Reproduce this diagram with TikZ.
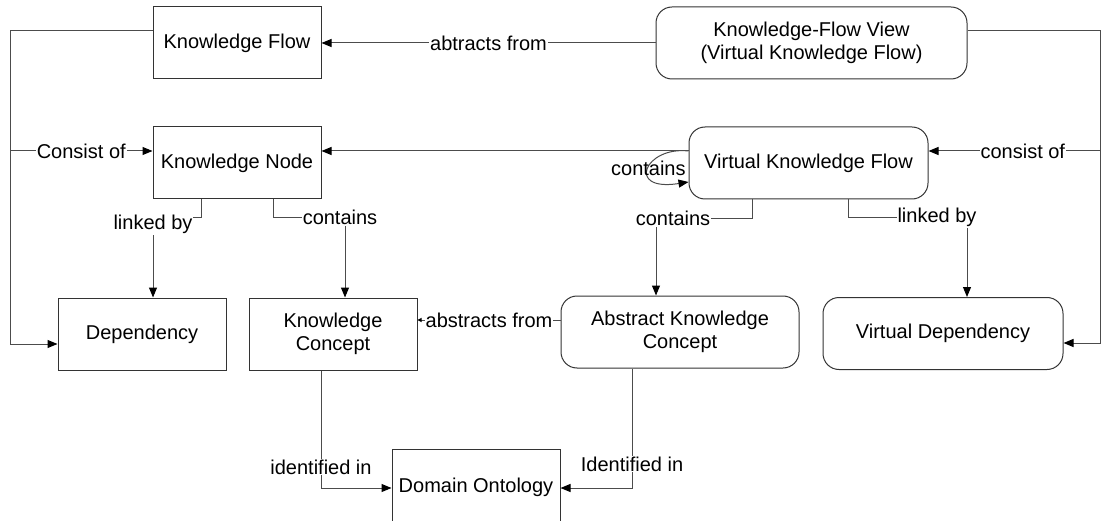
\documentclass[tikz,border=0pt]{standalone}
\usepackage{fontspec}
\setmainfont{Liberation Sans}
\usetikzlibrary{arrows.meta}

\begin{document}
\begin{tikzpicture}[x=1pt,y=-1pt,line join=miter,
  every node/.style={font=\fontsize{20}{23.5}\selectfont},
  box/.style={draw=black!80,line width=1pt,minimum height=72pt,align=center,inner sep=2pt},
  rbox/.style={box,rounded corners=16pt},
  conn/.style={draw=black!70,line width=1pt,-{Triangle[length=10pt,width=8pt,color=black]}},
  lbl/.style={fill=white,inner sep=1pt}]
  % Knowledge flow on the left, its virtual view on the right, both tied to the domain ontology below.
  \useasboundingbox (0,0) rectangle (1102,521);

  \node[box,minimum width=168pt] (kf) at (237,43) {Knowledge Flow};
  \node[rbox,minimum width=311pt] (kfv) at (811.5,43) {Knowledge-Flow View\\(Virtual Knowledge Flow)};
  \node[box,minimum width=168pt] (kn) at (237,163) {Knowledge Node};
  \node[rbox,minimum width=239pt] (vkf) at (808.5,163) {Virtual Knowledge Flow};
  \node[box,minimum width=168pt] (dep) at (142,334) {Dependency};
  \node[box,minimum width=168pt] (kc) at (333,334) {Knowledge\\Concept};
  \node[rbox,minimum width=238pt] (akc) at (680,332) {Abstract Knowledge\\Concept};
  \node[rbox,minimum width=240pt] (vd) at (943,333.5) {Virtual Dependency};
  \node[box,minimum width=168pt,minimum height=76pt] (dom) at (476,487) {Domain Ontology};

  \coordinate (lt) at (10,31);
  \coordinate (lm) at (10,151);
  \coordinate (lb) at (10,344);
  \coordinate (rt) at (1100,31);
  \coordinate (rm) at (1100,151);
  \coordinate (rb) at (1100,343);

  \draw[conn] ([yshift=12pt]kf.west) -- (lt) -- (lb) -- ([yshift=-10pt]dep.west);
  \draw[conn] (lm) -- node[lbl]{Consist of} ([yshift=12pt]kn.west);
  \draw[conn] (kfv.west) -- node[lbl]{abtracts from} (kf.east);
  \draw[conn] ([yshift=12pt]kfv.east) -- (rt) -- (rb) -- ([yshift=-9.5pt]vd.east);
  \draw[conn] (rm) -- node[lbl,pos=0.45]{consist of} ([yshift=12pt]vkf.east);
  \draw[conn] ([yshift=12pt]vkf.west) -- ([yshift=12pt]kn.east);
  \draw[conn] ([yshift=12pt]vkf.west) .. controls (645,146) and (625,192) .. ([yshift=-19pt]vkf.west)
    node[pos=0.5]{contains};

  \draw[conn] ([xshift=-36pt]kn.south) -- ++(0,18) -| node[lbl,pos=0.5,yshift=-7pt]{linked by} ([xshift=11pt]dep.north);
  \draw[conn] ([xshift=36pt]kn.south) -- ++(0,18) -| node[lbl,pos=0.5,xshift=-5pt]{contains} ([xshift=12pt]kc.north);
  \draw[conn] ([xshift=-56.5pt]vkf.south) -- ++(0,19) -| node[lbl,pos=0.5,xshift=17pt]{contains} ([xshift=-24pt]akc.north);
  \draw[conn] ([xshift=39.5pt]vkf.south) -- ++(0,18) -| node[lbl,pos=0.5,xshift=-30pt]{linked by} ([xshift=24pt]vd.north);
  \draw[conn,-{Triangle[length=4pt,width=4pt,color=black]}] ([yshift=12pt]akc.west) -- node[lbl]{abstracts from} ([yshift=14pt]kc.east);

  \draw[conn] ([xshift=-12pt]kc.south) |- node[lbl,pos=0.41]{identified in} ([yshift=-1pt]dom.west);
  \draw[conn] ([xshift=-48pt]akc.south) |- node[lbl,pos=0.4]{Identified in} ([yshift=-1pt]dom.east);
\end{tikzpicture}
\end{document}
